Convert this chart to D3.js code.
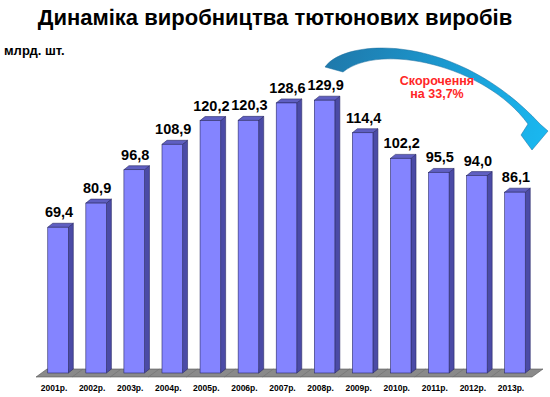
<!DOCTYPE html>
<html>
<head>
<meta charset="utf-8">
<script src="https://cdn.jsdelivr.net/npm/d3@7/dist/d3.min.js"></script>
<style>
  html, body { margin: 0; padding: 0; background: #fff; }
  svg { display: block; font-family: "Liberation Sans", Arial, sans-serif; }
</style>
</head>
<body>
<div id="chart"></div>
<script>
var years = ['2001р.', '2002р.', '2003р.', '2004р.', '2005р.', '2006р.', '2007р.',
  '2008р.', '2009р.', '2010р.', '2011р.', '2012р.', '2013р.'];
var values = [69.4, 80.9, 96.8, 108.9, 120.2, 120.3, 128.6, 129.9, 114.4, 102.2, 95.5, 94.0, 86.1];
var valueLabels = ['69,4', '80,9', '96,8', '108,9', '120,2', '120,3', '128,6',
  '129,9', '114,4', '102,2', '95,5', '94,0', '86,1'];
var title = 'Динаміка виробництва тютюнових виробів';
var unitLabel = 'млрд. шт.';
var noteLines = ['Скорочення', 'на 33,7%'];

var width = 550;
var height = 397;
var depthX = 5;
var depthY = -4;

var svg = d3.select('#chart').append('svg')
  .attr('width', width)
  .attr('height', height);

var defs = svg.append('defs');
var grad = defs.append('linearGradient')
  .attr('id', 'arrowGrad')
  .attr('gradientUnits', 'userSpaceOnUse')
  .attr('x1', 325).attr('y1', 60)
  .attr('x2', 545).attr('y2', 140);
grad.append('stop').attr('offset', '0%').attr('stop-color', '#1f78aa');
grad.append('stop').attr('offset', '60%').attr('stop-color', '#1aa0d8');
grad.append('stop').attr('offset', '100%').attr('stop-color', '#1ab8f0');

var x = d3.scaleBand()
  .domain(years)
  .range([39, 534])
  .paddingInner(0.46)
  .paddingOuter(0.23);

var y = d3.scaleLinear()
  .domain([0, 130])
  .range([373, 100]);

// floor
var floorFront = 377;
var floorBack = 369;
var floor = svg.append('g');
floor.append('path')
  .attr('d', 'M36,' + floorFront + 'L532,' + floorFront + 'L543,' + floorBack + 'L47,' + floorBack + 'Z')
  .attr('fill', '#8a8a8a')
  .attr('stroke', '#555')
  .attr('stroke-width', 0.6);

floor.selectAll('line.grid')
  .data(years.slice(1))
  .enter().append('line')
  .attr('class', 'grid')
  .attr('x1', function (d) { return x(d) - x.step() * x.paddingInner() / 2 - 5; })
  .attr('y1', floorFront)
  .attr('x2', function (d) { return x(d) - x.step() * x.paddingInner() / 2 + 6; })
  .attr('y2', floorBack)
  .attr('stroke', '#6e6e6e')
  .attr('stroke-width', 0.6);

// bars
var bw = x.bandwidth();
var bars = svg.append('g').selectAll('g.bar')
  .data(values)
  .enter().append('g')
  .attr('class', 'bar');

bars.append('path')
  .attr('d', function (d, i) {
    var x0 = x(years[i]) + bw;
    var top = y(d);
    var bottom = y(0);
    return 'M' + x0 + ',' + top + 'L' + (x0 + depthX) + ',' + (top + depthY) +
      'L' + (x0 + depthX) + ',' + (bottom + depthY) + 'L' + x0 + ',' + bottom + 'Z';
  })
  .attr('fill', '#4b4ba6')
  .attr('stroke', '#2b2b66')
  .attr('stroke-width', 0.6);

bars.append('path')
  .attr('d', function (d, i) {
    var x0 = x(years[i]);
    var top = y(d);
    return 'M' + x0 + ',' + top + 'L' + (x0 + depthX) + ',' + (top + depthY) +
      'L' + (x0 + bw + depthX) + ',' + (top + depthY) + 'L' + (x0 + bw) + ',' + top + 'Z';
  })
  .attr('fill', '#5f5fc2')
  .attr('stroke', '#2b2b66')
  .attr('stroke-width', 0.6);

bars.append('rect')
  .attr('x', function (d, i) { return x(years[i]); })
  .attr('y', function (d) { return y(d); })
  .attr('width', bw)
  .attr('height', function (d) { return y(0) - y(d); })
  .attr('fill', '#8484ff')
  .attr('stroke', '#2b2b66')
  .attr('stroke-width', 0.6);

// value labels
svg.append('g').selectAll('text')
  .data(values)
  .enter().append('text')
  .attr('x', function (d, i) { return x(years[i]) + bw / 2 + 1; })
  .attr('y', function (d) { return y(d) - 10; })
  .attr('text-anchor', 'middle')
  .attr('font-size', 14.5)
  .attr('font-weight', 'bold')
  .attr('fill', '#000')
  .text(function (d, i) { return valueLabels[i]; });

// year labels
svg.append('g').selectAll('text')
  .data(years)
  .enter().append('text')
  .attr('x', function (d) { return x(d) + bw / 2 - 4; })
  .attr('y', 391)
  .attr('text-anchor', 'middle')
  .attr('font-size', 8.5)
  .attr('font-weight', 'bold')
  .attr('fill', '#000')
  .text(function (d) { return d; });

// title & unit
svg.append('text')
  .attr('x', 275)
  .attr('y', 25)
  .attr('text-anchor', 'middle')
  .attr('font-size', 22)
  .attr('font-weight', 'bold')
  .attr('fill', '#000')
  .text(title);

svg.append('text')
  .attr('x', 4)
  .attr('y', 55)
  .attr('font-size', 13)
  .attr('font-weight', 'bold')
  .attr('fill', '#000')
  .text(unitLabel);

// curved arrow
svg.append('path')
  .attr('d', 'M325,67 C345,38 455,32 540,124 L548,131 L532,150 L521,135 L528,124 C485,65 380,42 343,72 Z')
  .attr('fill', 'url(#arrowGrad)')
  .attr('stroke', '#1a6d9c')
  .attr('stroke-width', 0.5);

svg.append('g').selectAll('text')
  .data(noteLines)
  .enter().append('text')
  .attr('x', 437)
  .attr('y', function (d, i) { return 85 + i * 13; })
  .attr('text-anchor', 'middle')
  .attr('font-size', 12.5)
  .attr('font-weight', 'bold')
  .attr('fill', '#ff2626')
  .text(function (d) { return d; });
</script>
</body>
</html>
